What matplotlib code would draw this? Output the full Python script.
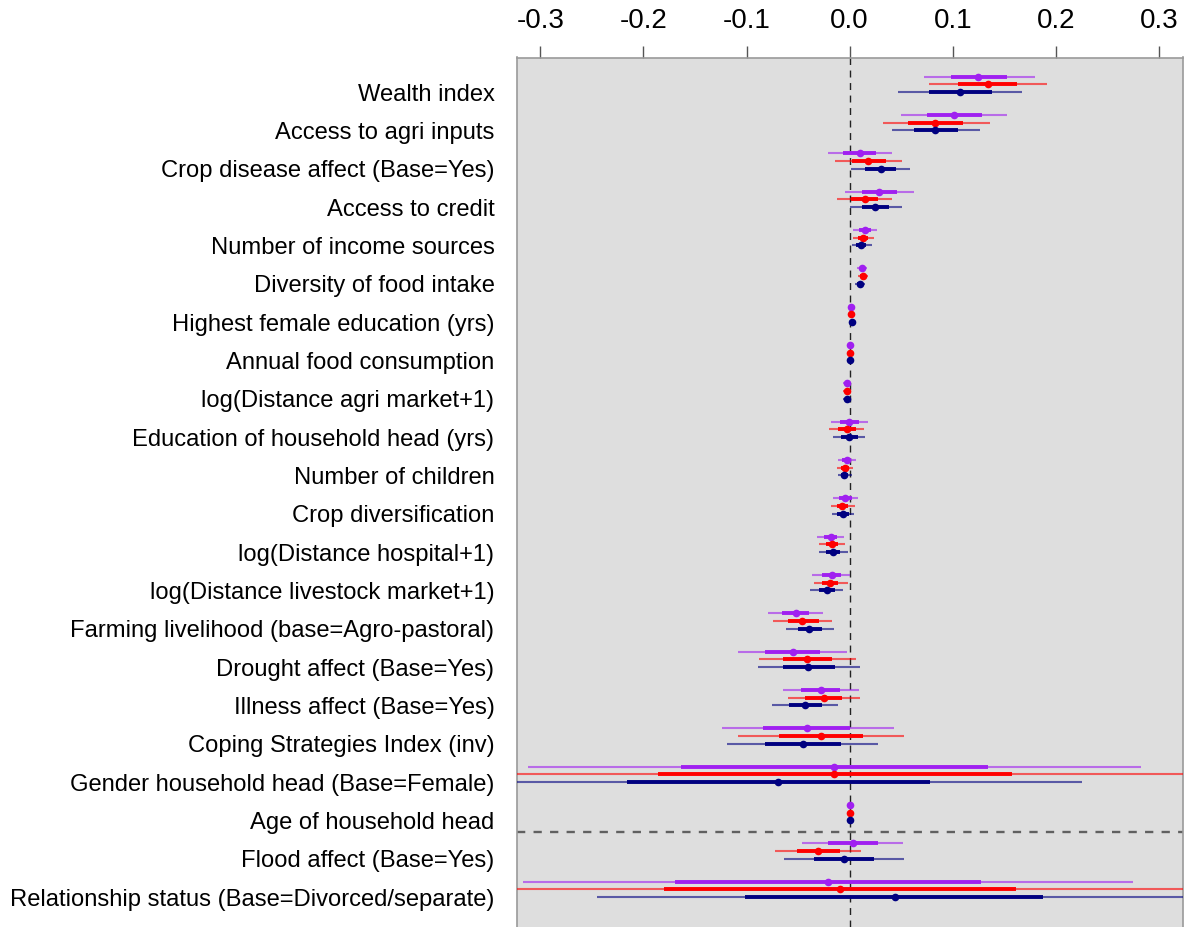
import matplotlib
matplotlib.use("Agg")
import matplotlib.pyplot as plt
from matplotlib import font_manager as fm
import numpy as np

categories = [
    "Wealth index", "Access to agri inputs", "Crop disease affect (Base=Yes)",
    "Access to credit", "Number of income sources", "Diversity of food intake",
    "Highest female education (yrs)", "Annual food consumption",
    "log(Distance agri market+1)", "Education of household head (yrs)",
    "Number of children", "Crop diversification", "log(Distance hospital+1)",
    "log(Distance livestock market+1)", "Farming livelihood (base=Agro-pastoral)",
    "Drought affect (Base=Yes)", "Illness affect (Base=Yes)",
    "Coping Strategies Index (inv)", "Gender household head (Base=Female)",
    "Age of household head", "Flood affect (Base=Yes)",
    "Relationship status (Base=Divorced/separate)",
]

xticks = [-0.3, -0.2, -0.1, 0.0, 0.1, 0.2, 0.3]
xtick_labels = ["-0.3", "-0.2", "-0.1", "0.0", "0.1", "0.2", "0.3"]

# purple model
p_est = [0.125, 0.101, 0.010, 0.029, 0.015, 0.012, 0.001, 0.0003, -0.003, -0.0003, -0.003, -0.004,
         -0.018, -0.017, -0.052, -0.055, -0.028, -0.041, -0.015, 0.0, 0.003, -0.021]
p_olo = [0.072, 0.050, -0.021, -0.004, 0.003, 0.007, -0.001, -0.001, -0.006, -0.018, -0.011, -0.016,
         -0.032, -0.036, -0.079, -0.108, -0.065, -0.124, -0.312, -0.001, -0.046, -0.317]
p_ohi = [0.180, 0.153, 0.041, 0.062, 0.027, 0.017, 0.003, 0.002, 0.000, 0.018, 0.006, 0.008,
         -0.005, 0.000, -0.026, -0.003, 0.009, 0.043, 0.283, 0.001, 0.052, 0.275]
p_ilo = [0.098, 0.075, -0.006, 0.012, 0.009, 0.010, 0.0, -0.0005, -0.0045, -0.009, -0.007, -0.010,
         -0.025, -0.027, -0.066, -0.082, -0.047, -0.084, -0.164, -0.0005, -0.021, -0.169]
p_ihi = [0.153, 0.128, 0.026, 0.046, 0.021, 0.015, 0.002, 0.001, -0.0015, 0.009, 0.0015, 0.002,
         -0.012, -0.008, -0.039, -0.029, -0.009, 0.000, 0.134, 0.0005, 0.028, 0.127]

# red model
r_est = [0.134, 0.083, 0.018, 0.015, 0.013, 0.013, 0.001, 0.0, -0.003, -0.003, -0.0045, -0.007,
         -0.017, -0.019, -0.046, -0.041, -0.025, -0.028, -0.015, 0.0, -0.031, -0.009]
r_olo = [0.077, 0.032, -0.014, -0.012, 0.003, 0.008, -0.001, -0.001, -0.006, -0.020, -0.012, -0.018,
         -0.030, -0.035, -0.074, -0.088, -0.060, -0.108, -0.40, -0.001, -0.072, -0.40]
r_ohi = [0.191, 0.136, 0.051, 0.041, 0.024, 0.018, 0.003, 0.001, 0.000, 0.014, 0.003, 0.005,
         -0.004, -0.002, -0.017, 0.006, 0.010, 0.053, 0.39, 0.001, 0.011, 0.39]
r_ilo = [0.105, 0.057, 0.002, 0.001, 0.008, 0.010, 0.0, -0.0005, -0.0045, -0.011, -0.008, -0.012,
         -0.023, -0.027, -0.060, -0.065, -0.043, -0.068, -0.186, -0.0005, -0.051, -0.180]
r_ihi = [0.162, 0.110, 0.035, 0.028, 0.018, 0.016, 0.002, 0.0005, -0.0015, 0.006, -0.001, -0.002,
         -0.011, -0.011, -0.030, -0.017, -0.007, 0.013, 0.158, 0.0005, -0.009, 0.161]

# navy model
n_est = [0.107, 0.083, 0.030, 0.025, 0.011, 0.010, 0.002, 0.0, -0.003, -0.0003, -0.005, -0.0065,
         -0.016, -0.022, -0.039, -0.040, -0.043, -0.045, -0.069, 0.0, -0.0055, 0.044]
n_olo = [0.047, 0.041, 0.001, 0.000, 0.002, 0.005, 0.0, -0.001, -0.006, -0.016, -0.011, -0.017,
         -0.030, -0.038, -0.062, -0.089, -0.075, -0.119, -0.36, -0.001, -0.064, -0.245]
n_ohi = [0.167, 0.126, 0.059, 0.051, 0.0215, 0.015, 0.004, 0.001, 0.000, 0.015, 0.002, 0.004,
         -0.002, -0.006, -0.015, 0.010, -0.011, 0.028, 0.225, 0.001, 0.053, 0.37]
n_ilo = [0.077, 0.062, 0.015, 0.0125, 0.0065, 0.0075, 0.001, -0.0005, -0.0045, -0.008, -0.008, -0.012,
         -0.023, -0.030, -0.050, -0.065, -0.059, -0.082, -0.216, -0.0005, -0.035, -0.101]
n_ihi = [0.138, 0.105, 0.045, 0.038, 0.016, 0.0125, 0.003, 0.0005, -0.0015, 0.008, -0.002, -0.001,
         -0.009, -0.014, -0.027, -0.014, -0.027, -0.008, 0.078, 0.0005, 0.024, 0.188]

series = [
    ("#A020F0", 0.4, p_est, p_olo, p_ohi, p_ilo, p_ihi),
    ("#FF0000", 0.2, r_est, r_olo, r_ohi, r_ilo, r_ihi),
    ("#000080", 0.0, n_est, n_olo, n_ohi, n_ilo, n_ihi),
]

available = {f.name for f in fm.fontManager.ttflist}
base_font = "Liberation Sans" if "Liberation Sans" in available else "DejaVu Sans"
plt.rcParams["font.family"] = [base_font, "DejaVu Sans"]

fig = plt.figure(figsize=(11.85, 9.27), dpi=100)
ax = fig.add_axes([516.6 / 1185, 0.0, (1182.6 - 516.6) / 1185, 1 - 57.5 / 927])
ax.set_facecolor("#DEDEDE")

n = len(categories)
y = -np.arange(n, dtype=float)

for color, off, est, olo, ohi, ilo, ihi in series:
    yy = y + off
    ax.hlines(yy, olo, ohi, colors=color, linewidth=1.5, alpha=0.6, zorder=3)
    ax.hlines(yy, ilo, ihi, colors=color, linewidth=2.8, zorder=4)
    ax.plot(est, yy, "o", color=color, markersize=5.5, markeredgewidth=0, zorder=5)

ax.axvline(0, color="#222222", linestyle=(0, (5, 4)), linewidth=1.0, zorder=2)
ax.axhline(-19.3, color="#606060", linestyle=(0, (3.5, 3.5)), linewidth=1.7, zorder=2)

ax.set_xlim(-0.323, 0.323)
ax.set_ylim(-21.78, 0.9)

ax.xaxis.tick_top()
ax.set_xticks(xticks)
ax.set_xticklabels(xtick_labels, fontsize=20)
ax.tick_params(axis="x", direction="out", length=8.6, width=1, color="#555555", pad=8)

ax.set_yticks(y)
ax.set_yticklabels(categories, fontsize=17.1)
ax.tick_params(axis="y", length=0, pad=16)

for side in ["top", "left", "right"]:
    ax.spines[side].set_color("#9A9A9A")
    ax.spines[side].set_linewidth(1.2)
ax.spines["bottom"].set_visible(False)

fig.savefig("out.png", dpi=100)
